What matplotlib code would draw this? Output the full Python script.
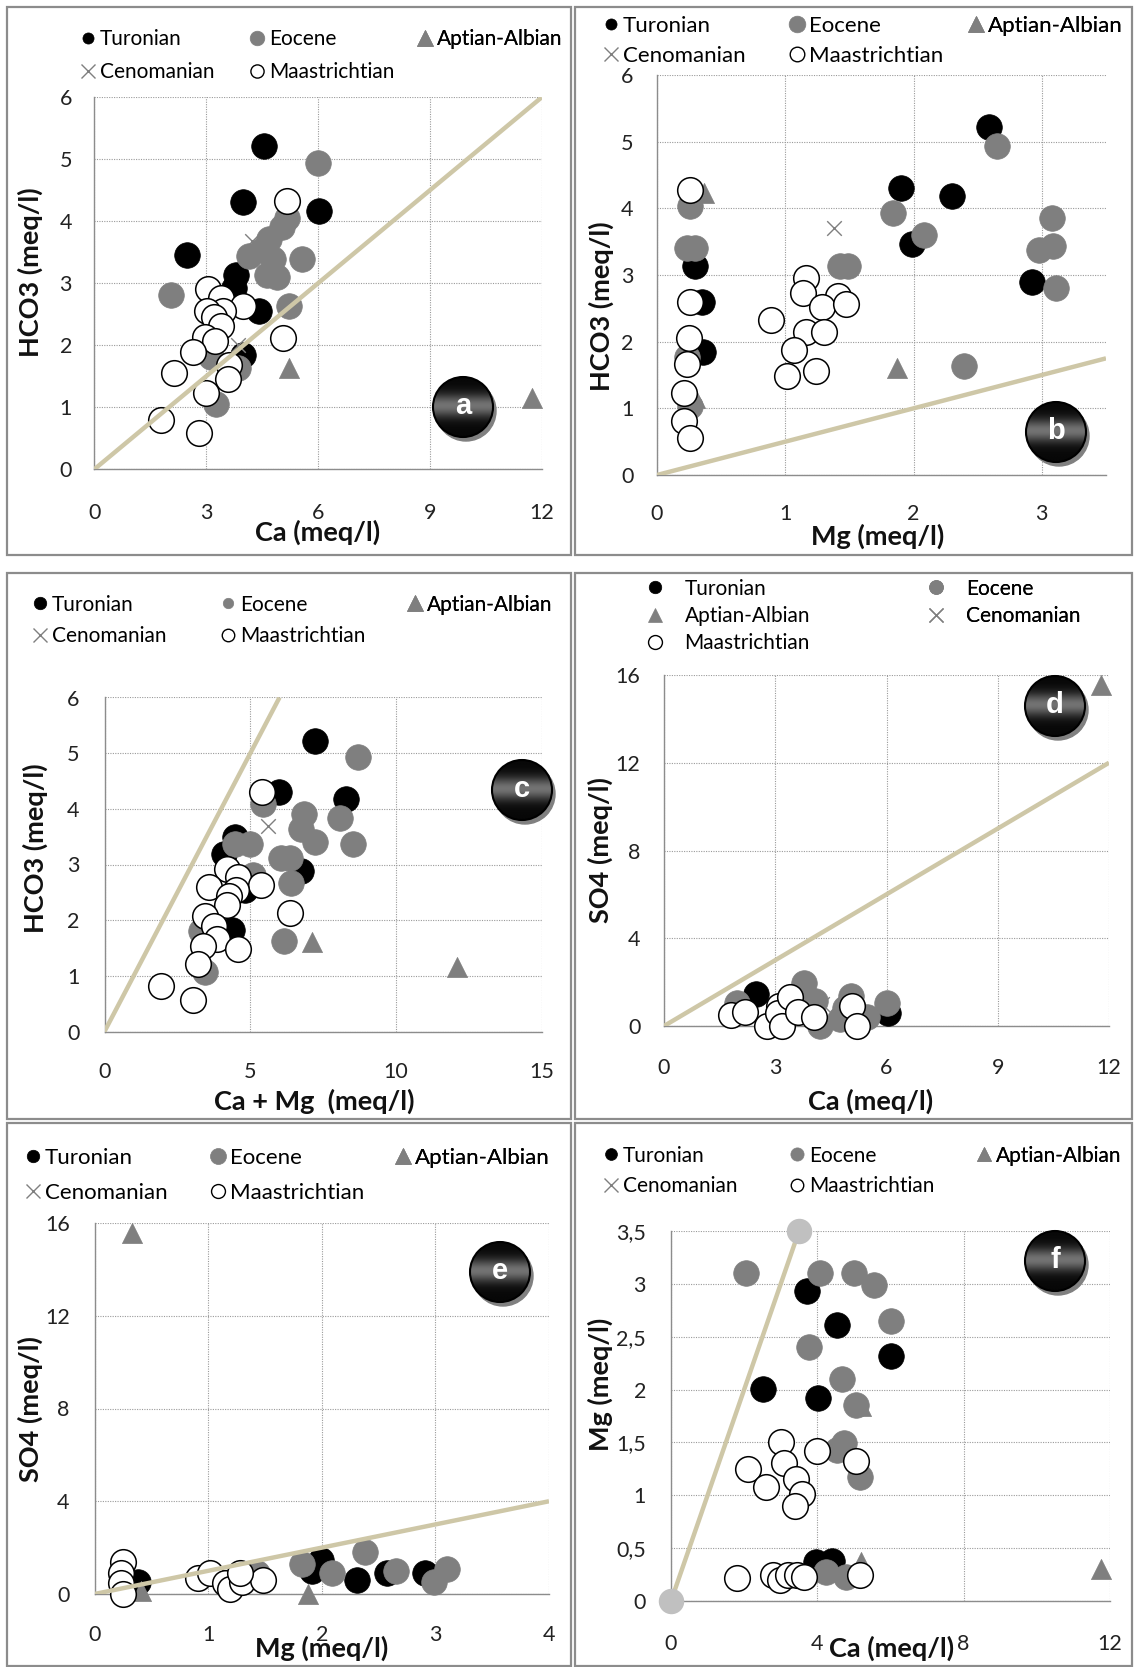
import matplotlib
matplotlib.use("Agg")
import matplotlib.pyplot as plt
import numpy as np
from matplotlib.lines import Line2D
from matplotlib.patches import Circle, Rectangle

W, H = 1134, 1667
GRAY = "#7f7f7f"
TAN = "#cec7a7"

# ---- panel a : Ca vs HCO3 ----
A_TURONIAN = [(4.56, 5.21), (4.0, 4.31), (6.02, 4.17), (2.48, 3.46), (3.81, 3.14),
              (3.76, 2.93), (4.41, 2.55), (4.0, 1.85)]
A_EOCENE = [(6.0, 4.94), (5.18, 4.06), (5.04, 3.90), (4.69, 3.71), (4.5, 3.53), (4.15, 3.44),
            (5.58, 3.40), (4.79, 3.39), (4.64, 3.13), (4.89, 3.10), (2.07, 2.81), (5.23, 2.64),
            (3.12, 1.81), (3.86, 1.64), (3.27, 1.06)]
A_APTIAN = [(5.23, 1.64), (11.74, 1.15)]
A_CENOMANIAN = [(4.23, 3.69), (3.85, 2.0)]
A_MAASTRICHTIAN = [(5.18, 4.32), (3.05, 2.91), (3.41, 2.77), (4.0, 2.64), (3.46, 2.55), (3.02, 2.55),
                   (3.22, 2.45), (3.41, 2.31), (2.97, 2.14), (3.24, 2.07), (5.07, 2.12), (2.66, 1.89),
                   (3.61, 1.69), (2.13, 1.56), (3.58, 1.46), (3.0, 1.23), (1.79, 0.80), (2.82, 0.59)]
A_LINE = ([0, 12], [0, 6])

# ---- panel b : Mg vs HCO3 ----
B_TURONIAN = [(2.59, 5.22), (1.90, 4.30), (2.30, 4.18), (1.99, 3.47), (0.30, 3.13),
              (0.35, 2.60), (0.36, 1.85), (2.92, 2.89)]
B_EOCENE = [(2.65, 4.93), (0.26, 4.04), (1.84, 3.93), (2.08, 3.60), (3.08, 3.86), (2.98, 3.37),
            (3.09, 3.43), (0.23, 3.40), (0.30, 3.40), (1.43, 3.13), (1.49, 3.13), (3.11, 2.81),
            (2.39, 1.63), (0.23, 1.77), (0.26, 1.04)]
B_APTIAN = [(0.37, 4.23), (1.87, 1.61), (0.30, 1.15)]
B_CENOMANIAN = [(1.38, 3.70)]
B_MAASTRICHTIAN = [(0.26, 4.28), (1.16, 2.95), (1.14, 2.73), (1.41, 2.68), (1.29, 2.52), (1.47, 2.56),
                   (0.26, 2.60), (0.89, 2.33), (1.16, 2.15), (1.30, 2.14), (0.25, 2.06), (1.07, 1.87),
                   (0.23, 1.67), (1.24, 1.56), (1.01, 1.49), (0.21, 1.23), (0.21, 0.81), (0.26, 0.56)]
B_LINE = ([0, 3.5], [0, 1.75])

# ---- panel c : Ca+Mg vs HCO3 ----
C_TURONIAN = [(7.2, 5.21), (5.97, 4.31), (8.27, 4.18), (4.46, 3.50), (4.11, 3.18),
              (6.75, 2.89), (4.82, 2.54), (4.36, 1.83)]
C_EOCENE = [(8.68, 4.93), (5.44, 4.08), (6.85, 3.90), (8.08, 3.84), (6.75, 3.63), (7.2, 3.40),
            (8.51, 3.37), (5.0, 3.37), (4.46, 3.37), (6.35, 3.11), (6.04, 3.11), (5.09, 2.82),
            (6.38, 2.66), (6.16, 1.62), (3.31, 1.80), (3.46, 1.06)]
C_APTIAN = [(7.1, 1.60), (12.07, 1.16)]
C_CENOMANIAN = [(5.6, 3.69)]
C_MAASTRICHTIAN = [(5.41, 4.31), (4.19, 2.92), (4.59, 2.77), (5.37, 2.63), (3.58, 2.60), (4.5, 2.54),
                   (4.28, 2.44), (4.21, 2.28), (3.43, 2.07), (3.77, 1.89), (3.84, 1.67), (3.37, 1.54),
                   (4.56, 1.48), (6.35, 2.13), (3.21, 1.22), (1.95, 0.82), (3.02, 0.56)]
C_LINE = ([0, 6], [0, 6])

# ---- panel d : Ca vs SO4 ----
D_TURONIAN = [(2.49, 1.46), (6.05, 0.57)]
D_EOCENE = [(3.77, 1.95), (1.97, 1.06), (4.06, 1.14), (4.2, 0.0), (4.88, 0.81), (5.03, 1.38),
            (4.74, 0.33), (5.47, 0.41), (6.0, 1.06), (5.13, 0.73)]
D_APTIAN = [(11.78, 15.54)]
D_CENOMANIAN = [(4.25, 1.0)]
D_MAASTRICHTIAN = [(1.81, 0.49), (2.19, 0.65), (2.78, 0.0), (3.09, 0.9), (3.07, 0.57), (3.18, 0.0),
                   (3.40, 1.30), (3.62, 0.65), (4.04, 0.41), (5.08, 0.93), (5.2, 0.0)]
D_LINE = ([0, 12], [0, 12])

# ---- panel e : Mg vs SO4 ----
E_TURONIAN = [(1.99, 1.45), (1.91, 0.99), (2.31, 0.61), (2.57, 0.91), (2.91, 0.91), (0.38, 0.53)]
E_EOCENE = [(1.83, 1.30), (2.09, 0.91), (2.38, 1.83), (2.65, 0.99), (2.99, 0.53), (3.10, 1.07),
            (1.43, 0.9)]
E_APTIAN = [(0.33, 15.55), (1.88, 0.0), (0.41, 0.15)]
E_CENOMANIAN = [(1.38, 0.95)]
E_MAASTRICHTIAN = [(0.25, 1.37), (0.23, 0.91), (0.23, 0.46), (0.25, 0.0), (0.91, 0.69), (1.02, 0.91),
                   (1.15, 0.46), (1.19, 0.23), (1.30, 0.53), (1.48, 0.61), (1.28, 0.9)]
E_LINE = ([0, 4], [0, 4])

# ---- panel f : Ca vs Mg ----
F_TURONIAN = [(3.72, 2.93), (4.54, 2.61), (6.0, 2.32), (2.51, 2.01), (4.03, 1.92), (3.95, 0.37),
              (4.41, 0.38)]
F_EOCENE = [(2.04, 3.10), (4.08, 3.10), (5.0, 3.10), (5.56, 2.99), (6.0, 2.65), (3.76, 2.40),
            (4.67, 2.10), (5.07, 1.85), (4.74, 1.49), (4.54, 1.43), (5.16, 1.17), (4.23, 0.27),
            (4.77, 0.23)]
F_APTIAN = [(5.19, 1.84), (5.19, 0.37), (11.75, 0.30)]
F_CENOMANIAN = [(4.38, 1.43), (4.18, 0.25)]
F_MAASTRICHTIAN = [(3.02, 1.50), (3.99, 1.42), (5.07, 1.32), (2.11, 1.25), (3.10, 1.31), (3.41, 1.15),
                   (2.61, 1.08), (3.59, 1.01), (3.39, 0.90), (1.80, 0.22), (2.80, 0.25), (2.99, 0.20),
                   (3.2, 0.25), (3.44, 0.25), (3.64, 0.23), (5.16, 0.25)]
F_LINE = ([0, 3.5], [0, 3.5])
F_YTICKLABELS = ["0", "0,5", "1", "1,5", "2", "2,5", "3", "3,5"]

STYLE = {
    "Turonian": dict(marker="o", fc="black", ec="black", lw=0.5),
    "Eocene": dict(marker="o", fc=GRAY, ec=GRAY, lw=0.5),
    "Aptian-Albian": dict(marker="^", fc=GRAY, ec=GRAY, lw=0.5),
    "Cenomanian": dict(marker="x", fc=GRAY, ec=GRAY, lw=1.0),
    "Maastrichtian": dict(marker="o", fc="white", ec="black", lw=1.1),
}
SIZES = {"Turonian": 340, "Eocene": 340, "Aptian-Albian": 210, "Cenomanian": 110, "Maastrichtian": 340}


def px_axes(fig, left, right, top, bottom):
    return fig.add_axes([left / W, 1 - bottom / H, (right - left) / W, (bottom - top) / H])


def draw_panel(ax, series, line, xlim, ylim, xticks, yticks, yticklabels=None, xpad=23, ypad=17):
    for name, pts in series:
        st = STYLE[name]
        xs, ys = zip(*pts)
        if st["marker"] == "x":
            ax.scatter(xs, ys, s=SIZES[name], marker="x", c=st["ec"], linewidths=st["lw"],
                       clip_on=False, zorder=3)
        else:
            ax.scatter(xs, ys, s=SIZES[name], marker=st["marker"], facecolors=st["fc"],
                       edgecolors=st["ec"], linewidths=st["lw"], clip_on=False, zorder=3)
    ax.plot(line[0], line[1], color=TAN, lw=3.2, zorder=4, solid_capstyle="butt")
    ax.set_xlim(*xlim)
    ax.set_ylim(*ylim)
    ax.set_xticks(xticks)
    ax.set_yticks(yticks)
    if yticklabels is not None:
        ax.set_yticklabels(yticklabels)
    ax.grid(True, color="#9a9a9a", lw=0.8, ls=(0, (1, 1.2)))
    ax.set_axisbelow(True)
    for side in ["top", "right"]:
        ax.spines[side].set_visible(False)
    for side in ["left", "bottom"]:
        ax.spines[side].set_color("#8c8c8c")
        ax.spines[side].set_linewidth(1.0)
    ax.tick_params(axis="x", length=0, pad=xpad, labelsize=15.5, labelcolor="#222222")
    ax.tick_params(axis="y", length=0, pad=ypad, labelsize=15.5, labelcolor="#222222")


def add_legend(ax, columns, row1_y, row_gap, fs=15, msizes=None, text_gap=12, hl=0.6):
    fs_px = fs * 100 / 72
    msizes = msizes or {}
    for names, mx in columns:
        handles = []
        for name in names:
            st = STYLE[name]
            ms = msizes.get(name, 10)
            if st["marker"] == "x":
                h = Line2D([], [], ls="none", marker="x", markersize=ms, color=GRAY, mew=1.0)
            else:
                h = Line2D([], [], ls="none", marker=st["marker"], markersize=ms, mfc=st["fc"],
                           mec=st["ec"], mew=1.0 if st["fc"] == "white" else 0.5)
            handles.append(h)
        left = mx - hl * fs_px / 2
        top = row1_y - 0.4 * fs_px
        leg = ax.legend(handles, names, loc="upper left",
                        bbox_to_anchor=(left / W, 1 - top / H), bbox_transform=ax.figure.transFigure,
                        frameon=False, fontsize=fs, handlelength=hl,
                        handletextpad=(text_gap - hl * fs_px / 2) / fs_px,
                        labelspacing=(row_gap - 0.97 * fs_px) / fs_px,
                        borderpad=0, borderaxespad=0)
        ax.add_artist(leg)


def badge(fig, cx, cy, letter, r=30):
    pad = 8
    bx = fig.add_axes([(cx - r - pad) / W, 1 - (cy + r + pad) / H, 2 * (r + pad) / W, 2 * (r + pad) / H])
    bx.set_xlim(-r - pad, r + pad)
    bx.set_ylim(-r - pad, r + pad)
    bx.axis("off")
    bx.add_patch(Circle((3, -4), r, color="#808080", zorder=1))
    t = np.linspace(-1, 1, 200)
    prof = 0.03 + 0.42 * np.exp(-((t - 0.05) * 2.6) ** 2)
    grad = np.tile(prof[:, None], (1, 20))
    im = bx.imshow(grad, extent=[-r, r, -r, r], cmap="gray", vmin=0, vmax=1, origin="lower",
                   aspect="auto", zorder=2)
    im.set_clip_path(Circle((0, 0), r, transform=bx.transData))
    bx.add_patch(Circle((0, 0), r, fill=False, ec="black", lw=1.5, zorder=3))
    bx.text(0, 1, letter, color="white", fontsize=21, fontweight="bold", ha="center", va="center",
            family="Liberation Sans", zorder=4)


def frame(fig, left, top, right, bottom):
    fig.patches.append(Rectangle((left / W, 1 - bottom / H), (right - left) / W, (bottom - top) / H,
                                 transform=fig.transFigure, fill=False, ec="#8c8c8c", lw=1.6))


def label(fig, x, y, text, rotation=0):
    fig.text(x / W, 1 - y / H, text, ha="center", va="center", fontsize=19.5, fontweight="bold",
             rotation=rotation, color="#111111")


def main():
    plt.rcParams["font.family"] = ["Lato", "DejaVu Sans"]
    fig = plt.figure(figsize=(W / 100, H / 100), dpi=100)

    for box in [(7, 7, 571, 555), (575, 7, 1132, 555), (7, 573, 571, 1119),
                (575, 573, 1132, 1119), (7, 1123, 571, 1666), (575, 1123, 1132, 1666)]:
        frame(fig, *box)

    # a
    ax = px_axes(fig, 94.3, 541.7, 97.3, 469.3)
    draw_panel(ax, [("Turonian", A_TURONIAN), ("Eocene", A_EOCENE), ("Aptian-Albian", A_APTIAN),
                    ("Cenomanian", A_CENOMANIAN), ("Maastrichtian", A_MAASTRICHTIAN)],
               A_LINE, (0, 12), (0, 6), range(0, 13, 3), range(0, 7), xpad=24, ypad=16)
    add_legend(ax, [(["Turonian", "Cenomanian"], 88), (["Eocene", "Maastrichtian"], 257),
                    (["Aptian-Albian"], 425)], 37.5, 33.5, fs=15,
               msizes={"Turonian": 8, "Eocene": 10.5, "Maastrichtian": 9.5, "Aptian-Albian": 11})
    label(fig, 318, 532, "Ca (meq/l)")
    label(fig, 30, 272, "HCO3 (meq/l)", 90)

    # b
    ax = px_axes(fig, 657, 1106, 75, 475)
    draw_panel(ax, [("Turonian", B_TURONIAN), ("Eocene", B_EOCENE), ("Aptian-Albian", B_APTIAN),
                    ("Cenomanian", B_CENOMANIAN), ("Maastrichtian", B_MAASTRICHTIAN)],
               B_LINE, (0, 3.5), (0, 6), range(0, 4), range(0, 7), xpad=21, ypad=17)
    add_legend(ax, [(["Turonian", "Cenomanian"], 611), (["Eocene", "Maastrichtian"], 797),
                    (["Aptian-Albian"], 976)], 25, 31, fs=16,
               msizes={"Turonian": 8, "Eocene": 12, "Maastrichtian": 10.5, "Aptian-Albian": 12})
    label(fig, 878, 536, "Mg (meq/l)")
    label(fig, 601, 306, "HCO3 (meq/l)", 90)

    # c
    ax = px_axes(fig, 104.5, 542, 697.5, 1031.5)
    draw_panel(ax, [("Turonian", C_TURONIAN), ("Eocene", C_EOCENE), ("Aptian-Albian", C_APTIAN),
                    ("Cenomanian", C_CENOMANIAN), ("Maastrichtian", C_MAASTRICHTIAN)],
               C_LINE, (0, 15), (0, 6), range(0, 16, 5), range(0, 7), xpad=22, ypad=18)
    add_legend(ax, [(["Turonian", "Cenomanian"], 40), (["Eocene", "Maastrichtian"], 228),
                    (["Aptian-Albian"], 415)], 603, 32, fs=15,
               msizes={"Turonian": 9, "Eocene": 7.5, "Maastrichtian": 9, "Aptian-Albian": 11})
    label(fig, 314, 1101, "Ca + Mg  (meq/l)")
    label(fig, 35, 848, "HCO3 (meq/l)", 90)

    # d
    ax = px_axes(fig, 664, 1109, 675, 1026)
    draw_panel(ax, [("Turonian", D_TURONIAN), ("Eocene", D_EOCENE), ("Aptian-Albian", D_APTIAN),
                    ("Cenomanian", D_CENOMANIAN), ("Maastrichtian", D_MAASTRICHTIAN)],
               D_LINE, (0, 12), (0, 16), range(0, 13, 3), range(0, 17, 4), xpad=23, ypad=17)
    add_legend(ax, [(["Turonian", "Aptian-Albian", "Maastrichtian"], 654.5),
                    (["Eocene", "Cenomanian"], 936)], 587, 27.5, fs=15, text_gap=30, hl=2.0,
               msizes={"Turonian": 9, "Eocene": 10, "Maastrichtian": 10, "Aptian-Albian": 10})
    label(fig, 871, 1101, "Ca (meq/l)")
    label(fig, 600, 850, "SO4 (meq/l)", 90)

    # e
    ax = px_axes(fig, 94.6, 549, 1223, 1594)
    draw_panel(ax, [("Turonian", E_TURONIAN), ("Eocene", E_EOCENE), ("Aptian-Albian", E_APTIAN),
                    ("Cenomanian", E_CENOMANIAN), ("Maastrichtian", E_MAASTRICHTIAN)],
               E_LINE, (0, 4), (0, 16), range(0, 5), range(0, 17, 4), xpad=22, ypad=18)
    add_legend(ax, [(["Turonian", "Cenomanian"], 33), (["Eocene", "Maastrichtian"], 218),
                    (["Aptian-Albian"], 403)], 1157, 36, fs=16,
               msizes={"Turonian": 9, "Eocene": 11.5, "Maastrichtian": 10, "Aptian-Albian": 12})
    label(fig, 322, 1648, "Mg (meq/l)")
    label(fig, 30, 1409, "SO4 (meq/l)", 90)

    # f
    ax = px_axes(fig, 671, 1110, 1231, 1601)
    draw_panel(ax, [("Turonian", F_TURONIAN), ("Eocene", F_EOCENE), ("Aptian-Albian", F_APTIAN),
                    ("Cenomanian", F_CENOMANIAN), ("Maastrichtian", F_MAASTRICHTIAN)],
               F_LINE, (0, 12), (0, 3.5), range(0, 13, 4), np.arange(0, 3.6, 0.5),
               yticklabels=F_YTICKLABELS, xpad=24, ypad=18)
    ax.scatter(F_LINE[0], F_LINE[1], s=300, color="#c0c0c0", zorder=5, clip_on=False)
    add_legend(ax, [(["Turonian", "Cenomanian"], 611), (["Eocene", "Maastrichtian"], 797),
                    (["Aptian-Albian"], 984)], 1154, 31, fs=15,
               msizes={"Turonian": 8.5, "Eocene": 9.5, "Maastrichtian": 9, "Aptian-Albian": 10.5})
    label(fig, 892, 1648, "Ca (meq/l)")
    label(fig, 600, 1384, "Mg (meq/l)", 90)

    for cx, cy, letter in [(463, 407, "a"), (1056, 432, "b"), (522, 790, "c"),
                           (1055, 706, "d"), (500, 1272, "e"), (1055, 1261, "f")]:
        badge(fig, cx, cy, letter)

    fig.savefig("out.png", dpi=100)
    plt.close(fig)


if __name__ == "__main__":
    main()
